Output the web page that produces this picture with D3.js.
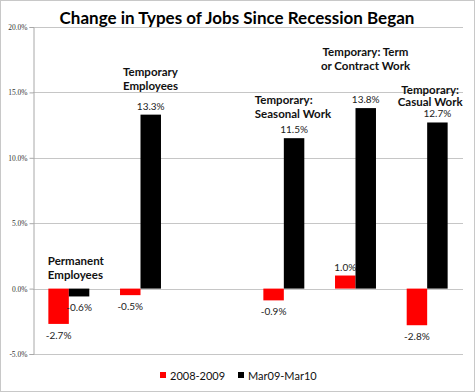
<!DOCTYPE html>
<html>
<head>
  <meta charset="utf-8" />
  <script src="https://d3js.org/d3.v7.min.js"></script>
  <style>
    * { margin: 0; padding: 0; }
    body { background: #fff; }
    svg { display: block; }
    text { font-family: Lato, "Open Sans", sans-serif; }
  </style>
</head>
<body>
  <svg width="475" height="392"></svg>

  <script>
    // chart data
    const categories = ["Permanent", "TempEmp", "blank", "Seasonal", "Term", "Casual"];
    const series = ["2008-2009", "Mar09-Mar10"];
    const colors = ["#ff0000", "#000000"];
    const values2008 = [-2.7, -0.5, null, -0.9, 1.0, -2.8];
    const valuesMar = [-0.6, 13.3, null, 11.5, 13.8, 12.7];
    const yTicks = [-5, 0, 5, 10, 15, 20];
    // category captions (lines) per group, with anchor info
    const captions = [
      { cat: "Permanent", lines: ["Permanent", "Employees"], dx: -21, y: 265, gap: 14, anchor: "start" },
      { cat: "TempEmp", lines: ["Temporary", "Employees"], dx: 10, y: 76, gap: 14, anchor: "middle" },
      { cat: "Seasonal", lines: ["Temporary:", "Seasonal Work"], dx: -29, y: 104, gap: 14, anchor: "start" },
      { cat: "Term", lines: ["Temporary: Term", "or Contract Work"], dx: 10, y: 56, gap: 14, anchor: "middle" },
      { cat: "Casual", lines: ["Temporary:", "Casual Work"], dx: 3, y: 94, gap: 12, anchor: "middle" }
    ];

    const svg = d3.select("svg");
    const W = 475, H = 392;
    const margin = { left: 33, right: 12, top: 27, bottom: 38 };

    // outer border
    svg.append("rect")
      .attr("x", 0.5).attr("y", 0.5)
      .attr("width", W - 1).attr("height", H - 1)
      .attr("fill", "#fff").attr("stroke", "#c8c8c8");

    const x = d3.scaleBand()
      .domain(categories)
      .range([margin.left, W - margin.right]);

    const barW = x.bandwidth() / 3.5;

    const y = d3.scaleLinear()
      .domain([-5, 20])
      .range([H - margin.bottom, margin.top]);

    // gridlines
    svg.append("g")
      .selectAll("line")
      .data(yTicks)
      .join("line")
      .attr("x1", margin.left).attr("x2", W - margin.right)
      .attr("y1", d => Math.round(y(d)) + 0.5).attr("y2", d => Math.round(y(d)) + 0.5)
      .attr("stroke", "#c6c6c6");

    // y axis
    const yAxis = d3.axisLeft(y)
      .tickValues(yTicks)
      .tickSize(4)
      .tickFormat(d => d.toFixed(1) + "%");

    const gy = svg.append("g")
      .attr("transform", `translate(${margin.left + 0.5},0)`)
      .call(yAxis);
    gy.select(".domain").attr("stroke", "#a8a8a8");
    gy.selectAll(".tick line").attr("stroke", "#a8a8a8");
    gy.selectAll(".tick text")
      .attr("x", -6)
      .style("font-family", "'Liberation Serif', serif")
      .style("font-size", "7.5px")
      .attr("fill", "#333");

    // bars
    const data = [];
    categories.forEach((c, i) => {
      [values2008[i], valuesMar[i]].forEach((v, s) => {
        if (v !== null) data.push({ cat: c, s: s, v: v });
      });
    });

    const cx = c => x(c) + x.bandwidth() / 2;

    svg.append("g")
      .selectAll("rect")
      .data(data)
      .join("rect")
      .attr("x", d => cx(d.cat) - barW + d.s * barW)
      .attr("width", barW)
      .attr("y", d => y(Math.max(0, d.v)))
      .attr("height", d => Math.abs(y(d.v) - y(0)))
      .attr("fill", d => colors[d.s]);

    // value labels
    svg.append("g")
      .selectAll("text")
      .data(data)
      .join("text")
      .attr("x", d => cx(d.cat) - barW / 2 + d.s * barW)
      .attr("y", d => d.v >= 0 ? y(d.v) - 5 : y(d.v) + 15)
      .attr("text-anchor", "middle")
      .style("font-size", "10px")
      .attr("fill", "#222")
      .text(d => d.v.toFixed(1) + "%");

    // captions
    const cap = svg.append("g");
    captions.forEach(c => {
      const t = cap.append("text")
        .attr("x", cx(c.cat) + c.dx)
        .attr("y", c.y)
        .attr("text-anchor", c.anchor)
        .style("font-size", "11.5px")
        .style("font-weight", "bold")
        .attr("fill", "#111");
      c.lines.forEach((l, k) => {
        t.append("tspan")
          .attr("x", cx(c.cat) + c.dx)
          .attr("dy", k === 0 ? 0 : c.gap)
          .text(l);
      });
    });

    // title
    svg.append("text")
      .attr("x", 237).attr("y", 24)
      .attr("text-anchor", "middle")
      .style("font-size", "17px")
      .style("font-weight", "bold")
      .attr("fill", "#000")
      .text("Change in Types of Jobs Since Recession Began");

    // legend
    const legend = svg.append("g");
    const legendX = [160, 238];
    series.forEach((s, i) => {
      legend.append("rect")
        .attr("x", legendX[i]).attr("y", 372)
        .attr("width", 6).attr("height", 6)
        .attr("fill", colors[i]);
      legend.append("text")
        .attr("x", legendX[i] + 10).attr("y", 380)
        .style("font-size", "11px")
        .attr("fill", "#111")
        .text(s);
    });
  </script>
</body>
</html>
